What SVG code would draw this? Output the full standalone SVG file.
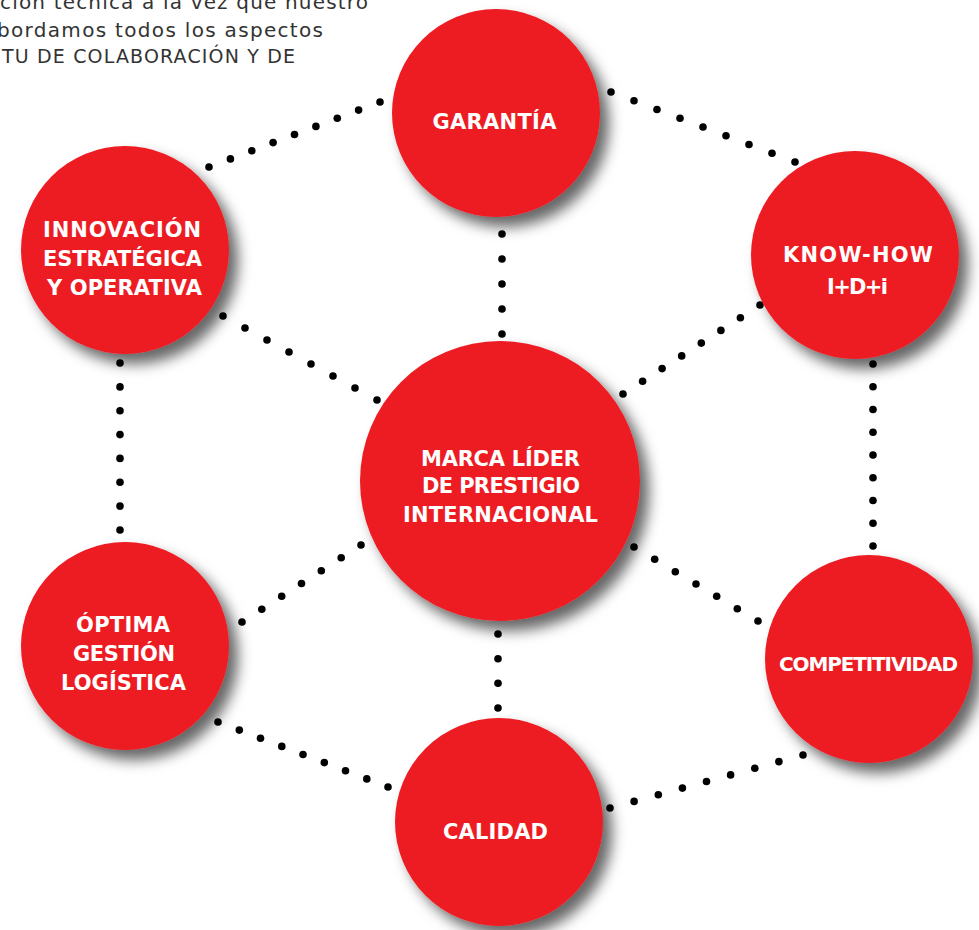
<svg xmlns="http://www.w3.org/2000/svg" width="979" height="930" viewBox="0 0 979 930">
<style>
.bg{fill:#ffffff}
.node{fill:#ED1C24;filter:url(#shadow)}
.lbl{fill:#ffffff;font-family:"DejaVu Sans","Liberation Sans",Arial,sans-serif;font-weight:bold;font-size:21px;text-anchor:middle}
.intro{fill:#333333;font-family:"DejaVu Sans","Liberation Sans",Arial,sans-serif;font-size:20px}
.dots circle{fill:#000000}
</style>
<defs>
<filter id="shadow" x="-30%" y="-30%" width="170%" height="170%">
<feGaussianBlur in="SourceAlpha" stdDeviation="7"/>
<feOffset dx="9" dy="10" result="b"/>
<feFlood flood-color="#000000" flood-opacity="0.6"/>
<feComposite in2="b" operator="in"/>
<feMerge><feMergeNode/><feMergeNode in="SourceGraphic"/></feMerge>
</filter>
</defs>
<rect class="bg" x="0" y="0" width="979" height="930"/>
<g id="intro">
<text class="intro" x="0" y="9" textLength="368">ción técnica a la vez que nuestro</text>
<text class="intro" x="-3" y="37" textLength="326">bordamos todos los aspectos</text>
<text class="intro" x="2" y="63" textLength="293" style="font-size:19px">TU DE COLABORACIÓN Y DE</text>
</g>
<g id="connectors" class="dots">
<g id="c-garantia-innovacion">
<circle cx="209" cy="167" r="3.8"/><circle cx="230.4" cy="158.9" r="3.8"/><circle cx="251.8" cy="150.8" r="3.8"/><circle cx="273.1" cy="142.6" r="3.8"/><circle cx="294.5" cy="134.5" r="3.8"/><circle cx="315.9" cy="126.4" r="3.8"/><circle cx="337.3" cy="118.3" r="3.8"/><circle cx="358.6" cy="110.1" r="3.8"/><circle cx="380" cy="102" r="3.8"/>
</g>
<g id="c-garantia-knowhow">
<circle cx="611" cy="92" r="3.8"/><circle cx="634" cy="100.8" r="3.8"/><circle cx="657" cy="109.5" r="3.8"/><circle cx="680" cy="118.3" r="3.8"/><circle cx="703" cy="127" r="3.8"/><circle cx="726" cy="135.8" r="3.8"/><circle cx="749" cy="144.5" r="3.8"/><circle cx="772" cy="153.3" r="3.8"/><circle cx="795" cy="162" r="3.8"/>
</g>
<g id="c-innovacion-optima">
<circle cx="120" cy="363" r="3.8"/><circle cx="120" cy="386.9" r="3.8"/><circle cx="120" cy="410.7" r="3.8"/><circle cx="120" cy="434.6" r="3.8"/><circle cx="120" cy="458.4" r="3.8"/><circle cx="120" cy="482.3" r="3.8"/><circle cx="120" cy="506.1" r="3.8"/><circle cx="120" cy="530" r="3.8"/>
</g>
<g id="c-knowhow-competitividad">
<circle cx="873" cy="364" r="3.8"/><circle cx="873" cy="386.8" r="3.8"/><circle cx="873" cy="409.5" r="3.8"/><circle cx="873" cy="432.3" r="3.8"/><circle cx="873" cy="455" r="3.8"/><circle cx="873" cy="477.8" r="3.8"/><circle cx="873" cy="500.5" r="3.8"/><circle cx="873" cy="523.3" r="3.8"/><circle cx="873" cy="546" r="3.8"/>
</g>
<g id="c-innovacion-marca">
<circle cx="223" cy="316" r="3.8"/><circle cx="245" cy="328" r="3.8"/><circle cx="267" cy="340" r="3.8"/><circle cx="289" cy="352" r="3.8"/><circle cx="311" cy="364" r="3.8"/><circle cx="333" cy="376" r="3.8"/><circle cx="355" cy="388" r="3.8"/><circle cx="377" cy="400" r="3.8"/>
</g>
<g id="c-knowhow-marca">
<circle cx="623" cy="394" r="3.8"/><circle cx="642.6" cy="381.3" r="3.8"/><circle cx="662.1" cy="368.6" r="3.8"/><circle cx="681.7" cy="355.9" r="3.8"/><circle cx="701.3" cy="343.1" r="3.8"/><circle cx="720.9" cy="330.4" r="3.8"/><circle cx="740.4" cy="317.7" r="3.8"/><circle cx="760" cy="305" r="3.8"/>
</g>
<g id="c-garantia-marca">
<circle cx="502" cy="234" r="3.8"/><circle cx="502" cy="259" r="3.8"/><circle cx="502" cy="284" r="3.8"/><circle cx="502" cy="309" r="3.8"/><circle cx="502" cy="334" r="3.8"/>
</g>
<g id="c-marca-calidad">
<circle cx="498" cy="634" r="3.8"/><circle cx="498" cy="658.7" r="3.8"/><circle cx="498" cy="683.3" r="3.8"/><circle cx="498" cy="708" r="3.8"/>
</g>
<g id="c-marca-optima">
<circle cx="361" cy="545" r="3.8"/><circle cx="341.2" cy="557.8" r="3.8"/><circle cx="321.3" cy="570.7" r="3.8"/><circle cx="301.5" cy="583.5" r="3.8"/><circle cx="281.7" cy="596.3" r="3.8"/><circle cx="261.8" cy="609.2" r="3.8"/><circle cx="242" cy="622" r="3.8"/>
</g>
<g id="c-marca-competitividad">
<circle cx="634" cy="547" r="3.8"/><circle cx="654.7" cy="559.3" r="3.8"/><circle cx="675.3" cy="571.7" r="3.8"/><circle cx="696" cy="584" r="3.8"/><circle cx="716.7" cy="596.3" r="3.8"/><circle cx="737.3" cy="608.7" r="3.8"/><circle cx="758" cy="621" r="3.8"/>
</g>
<g id="c-optima-calidad">
<circle cx="218" cy="722" r="3.8"/><circle cx="239.3" cy="730.1" r="3.8"/><circle cx="260.5" cy="738.3" r="3.8"/><circle cx="281.8" cy="746.4" r="3.8"/><circle cx="303" cy="754.5" r="3.8"/><circle cx="324.3" cy="762.6" r="3.8"/><circle cx="345.5" cy="770.8" r="3.8"/><circle cx="366.8" cy="778.9" r="3.8"/><circle cx="388" cy="787" r="3.8"/>
</g>
<g id="c-calidad-competitividad">
<circle cx="610" cy="808" r="3.8"/><circle cx="634.1" cy="801.4" r="3.8"/><circle cx="658.3" cy="794.8" r="3.8"/><circle cx="682.4" cy="788.1" r="3.8"/><circle cx="706.5" cy="781.5" r="3.8"/><circle cx="730.6" cy="774.9" r="3.8"/><circle cx="754.8" cy="768.3" r="3.8"/><circle cx="778.9" cy="761.6" r="3.8"/><circle cx="803" cy="755" r="3.8"/>
</g>
</g>
<g id="node-garantia">
<circle class="node" cx="496" cy="113" r="104"/>
<text class="lbl" x="494.5" y="129" textLength="124">GARANTÍA</text>
</g>
<g id="node-innovacion">
<circle class="node" cx="125" cy="250" r="104"/>
<text class="lbl" x="122" y="237" textLength="158">INNOVACIÓN</text>
<text class="lbl" x="122.5" y="266" textLength="159">ESTRATÉGICA</text>
<text class="lbl" x="124.5" y="295" textLength="155">Y OPERATIVA</text>
</g>
<g id="node-knowhow">
<circle class="node" cx="855" cy="255" r="104"/>
<text class="lbl" x="858" y="262" textLength="150">KNOW-HOW</text>
<text class="lbl" x="857.5" y="294" textLength="61">I+D+i</text>
</g>
<g id="node-marca">
<circle class="node" cx="500" cy="481" r="140"/>
<text class="lbl" x="500.5" y="466" textLength="159">MARCA LÍDER</text>
<text class="lbl" x="501" y="493" textLength="158">DE PRESTIGIO</text>
<text class="lbl" x="500.5" y="522" textLength="195">INTERNACIONAL</text>
</g>
<g id="node-optima">
<circle class="node" cx="125" cy="646" r="104"/>
<text class="lbl" x="123" y="632" textLength="94">ÓPTIMA</text>
<text class="lbl" x="124" y="661" textLength="102">GESTIÓN</text>
<text class="lbl" x="123.5" y="690" textLength="125">LOGÍSTICA</text>
</g>
<g id="node-competitividad">
<circle class="node" cx="869" cy="659" r="104"/>
<text class="lbl" x="868.5" y="671" textLength="179" style="font-size:20px">COMPETITIVIDAD</text>
</g>
<g id="node-calidad">
<circle class="node" cx="499" cy="822" r="104"/>
<text class="lbl" x="495.5" y="839" textLength="105" style="font-size:21px">CALIDAD</text>
</g>
</svg>
